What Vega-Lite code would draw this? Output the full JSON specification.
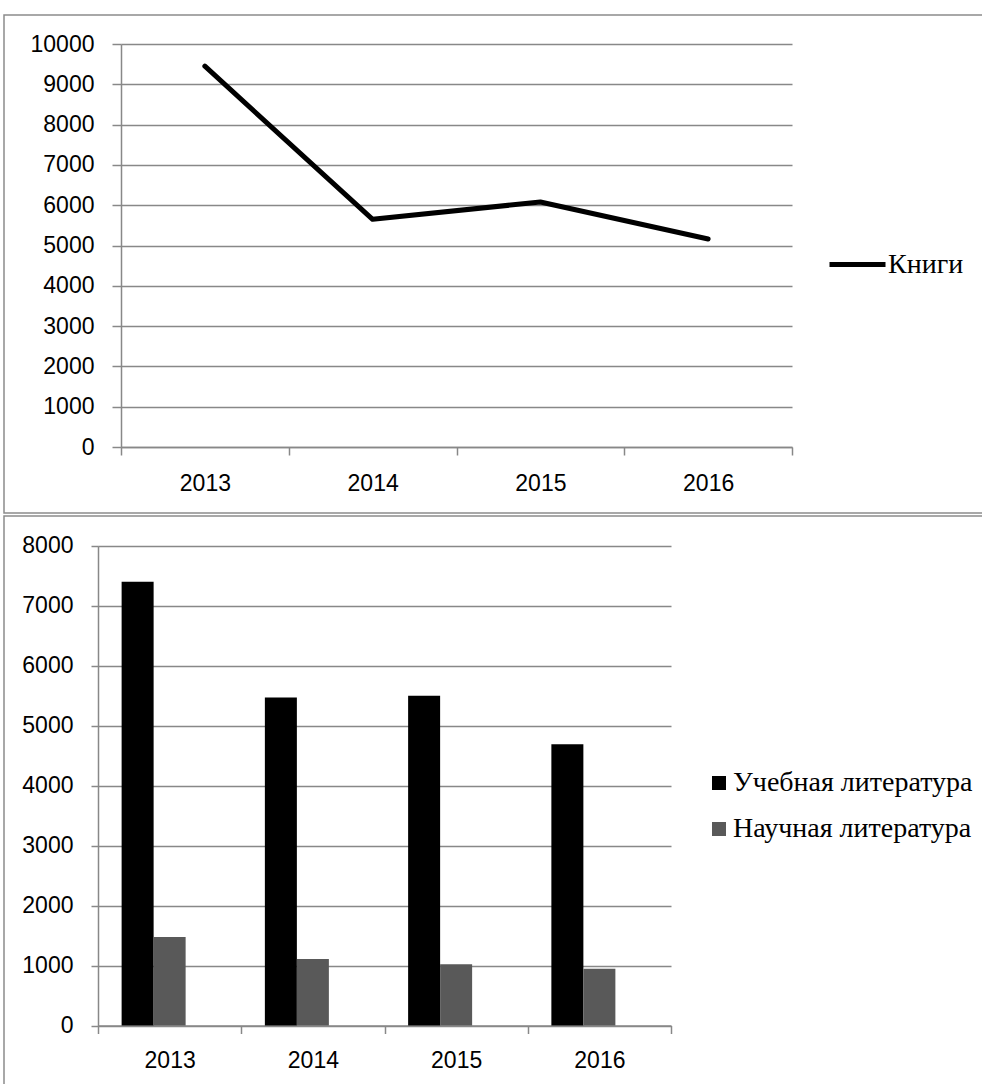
{
  "$schema": "https://vega.github.io/schema/vega-lite/v6.json",
  "background": "white",
  "padding": {"top": 14, "left": 3, "right": -18, "bottom": -11},
  "spacing": 1,
  "resolve": {"scale": {"color": "independent", "x": "independent", "y": "independent"}, "legend": {"color": "independent"}},
  "config": {
    "view": {"stroke": "#8c8c8c", "strokeWidth": 1.5},
    "axis": {
      "labelFont": "Liberation Sans", "labelFontSize": 23, "labelColor": "#000000",
      "domainColor": "#888888", "tickColor": "#888888", "gridColor": "#888888",
      "domainWidth": 1.5, "tickWidth": 1.5, "gridWidth": 1.5
    },
    "legend": {"labelFont": "Liberation Serif", "labelFontSize": 28, "labelColor": "#000000", "labelLimit": 0}
  },
  "vconcat": [
    {
      "width": 995,
      "height": 498,
      "data": {"values": [
        {"year": "2013", "series": "Книги", "value": 9450},
        {"year": "2014", "series": "Книги", "value": 5650},
        {"year": "2015", "series": "Книги", "value": 6080},
        {"year": "2016", "series": "Книги", "value": 5160}
      ]},
      "mark": {"type": "line", "strokeWidth": 5, "strokeCap": "round", "strokeJoin": "round"},
      "encoding": {
        "x": {
          "field": "year", "type": "ordinal", "title": null,
          "scale": {"type": "band", "range": [117, 788], "paddingInner": 0, "paddingOuter": 0},
          "axis": {"orient": "bottom", "offset": -66, "tickBand": "extent", "grid": false, "tickSize": 8, "labelPadding": 17, "labelAngle": 0, "labelBaseline": "top"}
        },
        "y": {
          "field": "value", "type": "quantitative", "title": null,
          "scale": {"domain": [0, 10000], "range": [432, 29], "nice": false},
          "axis": {"offset": -117, "format": "d", "values": [0, 1000, 2000, 3000, 4000, 5000, 6000, 7000, 8000, 9000, 10000], "tickSize": 9, "labelPadding": 18, "grid": true}
        },
        "color": {
          "field": "series", "type": "nominal", "title": null,
          "scale": {"domain": ["Книги"], "range": ["#000000"]},
          "legend": {"orient": "none", "legendX": 823, "legendY": 219, "symbolType": "stroke", "symbolSize": 3136, "symbolStrokeWidth": 5, "labelOffset": 0, "padding": 0}
        }
      }
    },
    {
      "width": 995,
      "height": 580,
      "data": {"values": [
        {"year": "2013", "series": "Учебная литература", "value": 7400},
        {"year": "2014", "series": "Учебная литература", "value": 5470},
        {"year": "2015", "series": "Учебная литература", "value": 5500},
        {"year": "2016", "series": "Учебная литература", "value": 4690},
        {"year": "2013", "series": "Научная литература", "value": 1475},
        {"year": "2014", "series": "Научная литература", "value": 1110},
        {"year": "2015", "series": "Научная литература", "value": 1020},
        {"year": "2016", "series": "Научная литература", "value": 945}
      ]},
      "mark": {"type": "bar"},
      "encoding": {
        "x": {
          "field": "year", "type": "ordinal", "title": null,
          "scale": {"type": "band", "range": [94, 667], "paddingInner": 0, "paddingOuter": 0},
          "axis": {"orient": "bottom", "offset": -70.5, "tickBand": "extent", "grid": false, "tickSize": 8, "labelPadding": 16, "labelAngle": 0, "labelBaseline": "top"}
        },
        "xOffset": {
          "field": "series", "type": "nominal",
          "scale": {"domain": ["Учебная литература", "Научная литература", "—"], "paddingInner": 0, "paddingOuter": 0.738}
        },
        "y": {
          "field": "value", "type": "quantitative", "title": null,
          "scale": {"domain": [0, 8000], "range": [509.5, 29.8], "nice": false},
          "axis": {"offset": -94, "format": "d", "values": [0, 1000, 2000, 3000, 4000, 5000, 6000, 7000, 8000], "tickSize": 7, "labelPadding": 18, "grid": true}
        },
        "color": {
          "field": "series", "type": "nominal", "title": null,
          "scale": {"domain": ["Учебная литература", "Научная литература"], "range": ["#000000", "#595959"]},
          "legend": {"orient": "none", "legendX": 701, "legendY": 253, "symbolType": "square", "symbolSize": 196, "symbolStrokeWidth": 0, "labelOffset": 0, "rowPadding": 18, "padding": 0}
        }
      }
    }
  ]
}
